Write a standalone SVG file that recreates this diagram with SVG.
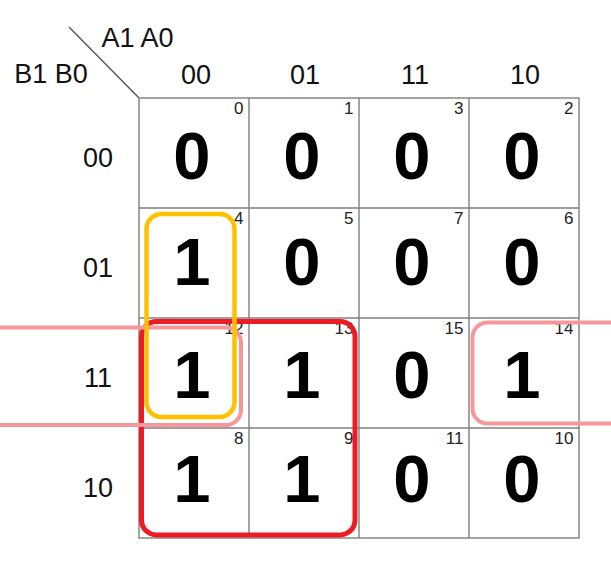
<svg xmlns="http://www.w3.org/2000/svg" width="611" height="573" viewBox="0 0 611 573">
<style>
.grid{fill:none;stroke:#7f7f7f;stroke-width:1.4}
.lbl{font-family:"Liberation Sans",Arial,sans-serif;font-size:27px;fill:#111;text-anchor:middle}
.big{font-family:"Liberation Sans",Arial,sans-serif;font-size:67px;font-weight:bold;fill:#000;text-anchor:middle}
.idx{font-family:"Liberation Sans",Arial,sans-serif;font-size:17px;fill:#222;text-anchor:end}
.loop{fill:none}
</style>
<rect width="611" height="573" fill="#fff"/>
<g id="header">
<line x1="69" y1="27" x2="139" y2="98" stroke="#555" stroke-width="1.4"/>
<text class="lbl" x="137.5" y="47">A1 A0</text>
<text class="lbl" x="51" y="83">B1 B0</text>
<text class="lbl" x="196" y="84">00</text>
<text class="lbl" x="305" y="84">01</text>
<text class="lbl" x="415" y="84">11</text>
<text class="lbl" x="525" y="84">10</text>
<text class="lbl" x="98" y="167">00</text>
<text class="lbl" x="98" y="277">01</text>
<text class="lbl" x="98" y="387">11</text>
<text class="lbl" x="98" y="497">10</text>
</g>
<g id="grid">
<rect class="grid" x="139" y="98" width="440" height="440"/>
<line class="grid" x1="249" y1="98" x2="249" y2="538"/>
<line class="grid" x1="359" y1="98" x2="359" y2="538"/>
<line class="grid" x1="469" y1="98" x2="469" y2="538"/>
<line class="grid" x1="139" y1="208" x2="579" y2="208"/>
<line class="grid" x1="139" y1="318" x2="579" y2="318"/>
<line class="grid" x1="139" y1="428" x2="579" y2="428"/>
</g>
<g id="cells">
<g id="m0"><text class="idx" x="243.5" y="113.5">0</text><text class="big" x="192" y="179">0</text></g>
<g id="m1"><text class="idx" x="353.5" y="113.5">1</text><text class="big" x="302" y="179">0</text></g>
<g id="m3"><text class="idx" x="463.5" y="113.5">3</text><text class="big" x="412" y="179">0</text></g>
<g id="m2"><text class="idx" x="573.5" y="113.5">2</text><text class="big" x="522" y="179">0</text></g>
<g id="m4"><text class="idx" x="243.5" y="223.5">4</text><text class="big" x="192" y="285">1</text></g>
<g id="m5"><text class="idx" x="353.5" y="223.5">5</text><text class="big" x="302" y="285">0</text></g>
<g id="m7"><text class="idx" x="463.5" y="223.5">7</text><text class="big" x="412" y="285">0</text></g>
<g id="m6"><text class="idx" x="573.5" y="223.5">6</text><text class="big" x="522" y="285">0</text></g>
<g id="m12"><text class="idx" x="243.5" y="333.5">12</text><text class="big" x="192" y="398">1</text></g>
<g id="m13"><text class="idx" x="353.5" y="333.5">13</text><text class="big" x="302" y="398">1</text></g>
<g id="m15"><text class="idx" x="463.5" y="333.5">15</text><text class="big" x="412" y="398">0</text></g>
<g id="m14"><text class="idx" x="573.5" y="333.5">14</text><text class="big" x="522" y="398">1</text></g>
<g id="m8"><text class="idx" x="243.5" y="443.5">8</text><text class="big" x="192" y="502">1</text></g>
<g id="m9"><text class="idx" x="353.5" y="443.5">9</text><text class="big" x="302" y="502">1</text></g>
<g id="m11"><text class="idx" x="463.5" y="443.5">11</text><text class="big" x="412" y="502">0</text></g>
<g id="m10"><text class="idx" x="573.5" y="443.5">10</text><text class="big" x="522" y="502">0</text></g>
</g>
<g id="loops">
<rect id="loop-red" class="loop" x="141.5" y="321.5" width="213.5" height="213.5" rx="15" stroke="#ED1C24" stroke-width="5"/>
<rect id="loop-pink-left" class="loop" x="-60" y="327.5" width="301" height="97.5" rx="15" stroke="#F4989C" stroke-width="4"/>
<rect id="loop-pink-right" class="loop" x="472.5" y="322.5" width="200" height="101" rx="15" stroke="#F4989C" stroke-width="4"/>
<rect id="loop-yellow" class="loop" x="146.5" y="214" width="88" height="203" rx="15" stroke="#FFC000" stroke-width="4.5"/>
</g>
</svg>
